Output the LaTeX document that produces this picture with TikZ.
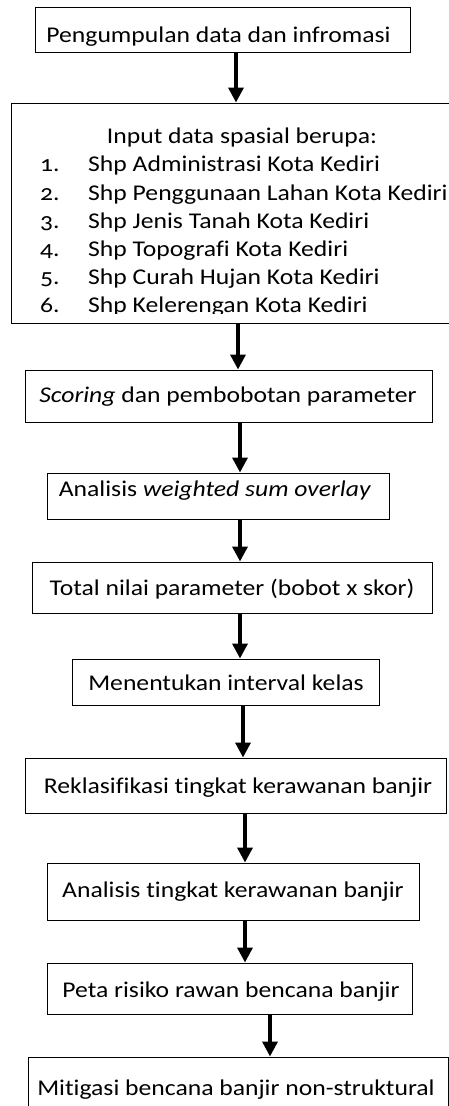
\documentclass[tikz,border=0pt]{standalone}
\usepackage{fontspec}
\setmainfont{Carlito}[FakeStretch=1.14,Ligatures=NoCommon]
\newfontfamily\numfont{Carlito}[Numbers=OldStyle,FakeStretch=1.14,Ligatures=NoCommon]
\usetikzlibrary{arrows.meta}
\begin{document}
\begin{tikzpicture}[x=1pt,y=-1pt]
\tikzset{
 box/.style={draw, line width=1pt, rectangle, inner sep=0pt},
 lbl/.style={anchor=base, inner sep=0pt, font=\fontsize{22.5}{27}\selectfont},
 lblw/.style={anchor=base west, inner sep=0pt, font=\fontsize{22.5}{27}\selectfont},
 flow/.style={line width=3.5pt, -{Triangle[width=15pt,length=15pt]}},
}
\useasboundingbox (0,0) rectangle (449,1106);
% boxes
\node[box, minimum width=375pt, minimum height=45pt] (b1) at (222.5,29.5) {};
\node[box, minimum width=441pt, minimum height=220pt] (b2) at (231.5,213) {};
\node[box, minimum width=407pt, minimum height=52pt] (b3) at (228.5,396) {};
\node[box, minimum width=342pt, minimum height=46pt] (b4) at (218,496) {};
\node[box, minimum width=400pt, minimum height=51pt] (b5) at (232,587.5) {};
\node[box, minimum width=307pt, minimum height=46pt] (b6) at (225.5,682) {};
\node[box, minimum width=421pt, minimum height=55pt] (b7) at (235.5,785.5) {};
\node[box, minimum width=372pt, minimum height=57pt] (b8) at (233,891.5) {};
\node[box, minimum width=365pt, minimum height=51pt] (b9) at (229.5,988.5) {};
\node[box, minimum width=420pt, minimum height=63pt] (b10) at (238,1088.5) {};
% texts
\node[lbl] (t1) at (218.5,42) {Pengumpulan data dan infromasi};
\begin{scope}
\clip (11,103) rectangle (452,313.5);
\node[lbl] (t2) at (242,143) {Input data spasial berupa:};
\node[lblw] (n1) at (40,171) {\numfont 1.};
\node[lblw] (n2) at (40,200) {\numfont 2.};
\node[lblw] (n3) at (40,228) {\numfont 3.};
\node[lblw] (n4) at (40,256) {\numfont 4.};
\node[lblw] (n5) at (40,284) {\numfont 5.};
\node[lblw] (n6) at (40,312) {\numfont 6.};
\node[lblw] (s1) at (88,171) {Shp Administrasi Kota Kediri};
\node[lblw] (s2) at (88,200) {Shp Penggunaan Lahan Kota Kediri};
\node[lblw] (s3) at (88,228) {Shp Jenis Tanah Kota Kediri};
\node[lblw] (s4) at (88,256) {Shp Topografi Kota Kediri};
\node[lblw] (s5) at (88,284) {Shp Curah Hujan Kota Kediri};
\node[lblw] (s6) at (88,312) {Shp Kelerengan Kota Kediri};
\end{scope}
\node[lbl] (t3) at (228,402) {\textit{Scoring} dan pembobotan parameter};
\begin{scope}
\clip (47,473) rectangle (389,499);
\node[lbl] (t4) at (215,496) {Analisis \textit{weighted sum overlay}};
\end{scope}
\node[lbl] (t5) at (232,595) {Total nilai parameter (bobot x skor)};
\node[lbl] (t6) at (226,690) {Menentukan interval kelas};
\node[lbl] (t7) at (238,793) {Reklasifikasi tingkat kerawanan banjir};
\node[lbl] (t8) at (233,897) {Analisis tingkat kerawanan banjir};
\node[lbl] (t9) at (231,997) {Peta risiko rawan bencana banjir};
\node[lbl] (t10) at (236,1095) {Mitigasi bencana banjir non-struktural};
% arrow columns
\coordinate (x1) at (236,0);
\coordinate (x2) at (238,0);
\coordinate (x3) at (240,0);
\coordinate (x4) at (240,0);
\coordinate (x5) at (240,0);
\coordinate (x6) at (243,0);
\coordinate (x7) at (245,0);
\coordinate (x8) at (245,0);
\coordinate (x9) at (270,0);
\draw[flow] (b1.south -| x1) -- (b2.north -| x1);
\draw[flow] (b2.south -| x2) -- (b3.north -| x2);
\draw[flow] (b3.south -| x3) -- (b4.north -| x3);
\draw[flow] (b4.south -| x4) -- (b5.north -| x4);
\draw[flow] (b5.south -| x5) -- (b6.north -| x5);
\draw[flow] (b6.south -| x6) -- (b7.north -| x6);
\draw[flow] (b7.south -| x7) -- (b8.north -| x7);
\draw[flow] (b8.south -| x8) -- (b9.north -| x8);
\draw[flow] (b9.south -| x9) -- (b10.north -| x9);
\end{tikzpicture}
\end{document}
